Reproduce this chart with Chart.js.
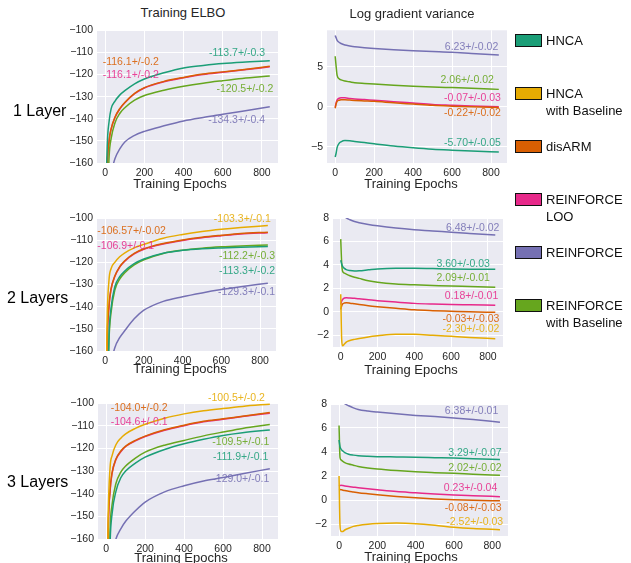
<!DOCTYPE html>
<html><head><meta charset="utf-8">
<script src="https://cdn.jsdelivr.net/npm/chart.js@4"></script>
<style>
body{margin:0;width:631px;height:563px;position:relative;overflow:hidden;background:#fff;font-family:"Liberation Sans",Arial,sans-serif;color:#262626}
.pane{position:absolute}
.pane canvas{display:block}
.t{position:absolute;white-space:nowrap;transform:translate(-50%,-50%);font-size:13px;line-height:1;z-index:5}
.row{position:absolute;white-space:nowrap;transform:translateY(-50%);font-size:16px;line-height:1;color:#000;z-index:5}
.lg{position:absolute;left:515px;width:25px;height:11px;border:1px solid #111;z-index:5}
.lt{position:absolute;left:546px;font-size:13px;line-height:17px;color:#111;z-index:5;white-space:nowrap}
</style></head><body>
<script>
// ---------- data ----------
const methods = ['HNCA','HNCA with Baseline','disARM','REINFORCE LOO','REINFORCE','REINFORCE with Baseline'];
const epochs = [0,5,10,20,30,50,75,100,150,200,300,400,500,600,700,840];
const xTicks = [0,200,400,600,800];
const elboTicks = [-160,-150,-140,-130,-120,-110,-100];
const var1Ticks = [-5,0,5];
const var23Ticks = [-2,0,2,4,6,8];

// 1 layer
const elbo1Hnca = [-240,-175,-153,-141,-135.5,-132,-129.2,-127.3,-124.2,-122,-119.2,-117,-115.9,-115,-114.4,-113.8];
const elbo1Disarm = [-257,-199,-164.5,-149.8,-144.6,-139.2,-135.3,-132.6,-128.5,-125.9,-123.1,-121.3,-119.8,-118.8,-117.8,-116.3];
const elbo1Loo = [-260,-200,-165,-150,-144.8,-139.4,-135.5,-132.8,-128.7,-126.1,-123.3,-121.5,-120,-119,-118,-116.5];
const elbo1Reinforce = [-205,-192,-182,-171,-165,-158,-153.5,-150.5,-147.5,-145.7,-143.2,-141,-139.4,-138,-136.6,-134.6];
const elbo1Baseline = [-280,-220,-185,-157,-149,-141.8,-137.5,-135,-131.6,-129.5,-127.1,-125.3,-123.9,-122.8,-121.8,-120.7];
const var1Hnca = [-6.3,-5.8,-5.1,-4.6,-4.4,-4.25,-4.28,-4.35,-4.5,-4.65,-4.93,-5.15,-5.33,-5.45,-5.55,-5.67];
const var1Disarm = [-0.2,0.35,0.65,0.8,0.85,0.86,0.82,0.78,0.72,0.66,0.48,0.32,0.16,0.06,-0.02,-0.1];
const var1Loo = [-0.1,0.5,0.85,1.05,1.12,1.1,1.03,0.97,0.88,0.8,0.62,0.45,0.28,0.18,0.08,0.0];
const var1Reinforce = [8.9,8.6,8.3,8.05,7.9,7.72,7.6,7.5,7.38,7.28,7.12,7.0,6.9,6.8,6.65,6.45];
const var1Baseline = [6.3,5.0,3.9,3.5,3.35,3.2,3.1,3.0,2.9,2.82,2.68,2.56,2.46,2.38,2.3,2.16];
// 2 layers
const elbo2Hnca = [-290,-235,-195,-153,-141,-131,-126.5,-124,-120.6,-118.5,-115.9,-114.6,-113.9,-113.5,-113.2,-112.9];
const elbo2HncaBase = [-240,-185,-148,-128,-123,-120,-117.5,-115.8,-113.5,-111.9,-109.1,-107.4,-106.1,-105.1,-104.3,-103.4];
const elbo2Disarm = [-252,-196,-158,-139.5,-132.2,-126.2,-122,-119.4,-116,-113.9,-111.5,-109.9,-108.7,-107.8,-107,-106.4];
const elbo2Loo = [-255,-198,-159,-140,-132.5,-126.4,-122.2,-119.6,-116.2,-114.1,-111.7,-110.1,-108.9,-108,-107.2,-106.6];
const elbo2Reinforce = [-210,-196,-185,-173,-166,-158.5,-154,-151,-145.5,-141.6,-137.6,-135.5,-133.8,-132.3,-131,-129.4];
const elbo2Baseline = [-280,-230,-190,-155,-143,-132.5,-127.6,-124.8,-121.2,-118.9,-116,-114.5,-113.6,-113,-112.6,-112.2];
const var2Hnca = [4.4,4.1,3.88,3.7,3.6,3.52,3.48,3.5,3.58,3.66,3.72,3.72,3.69,3.66,3.64,3.62];
const var2HncaBase = [1.5,-2.3,-2.9,-2.75,-2.58,-2.45,-2.35,-2.27,-2.14,-2.05,-1.92,-1.92,-2.0,-2.09,-2.18,-2.29];
const var2Disarm = [0.2,0.5,0.66,0.75,0.77,0.74,0.68,0.62,0.52,0.44,0.3,0.17,0.1,0.05,0.0,-0.04];
const var2Loo = [0.6,0.9,1.05,1.18,1.2,1.18,1.15,1.12,1.02,0.95,0.83,0.72,0.66,0.62,0.6,0.57];
const var2Reinforce = [8.8,8.6,8.4,8.15,8.0,7.85,7.7,7.6,7.45,7.33,7.14,7.0,6.9,6.78,6.68,6.55];
const var2Baseline = [6.2,4.2,3.45,3.3,3.22,3.08,2.95,2.85,2.65,2.52,2.37,2.3,2.25,2.2,2.16,2.1];
// 3 layers
const elbo3Hnca = [-290,-250,-210,-162,-149,-139,-133,-130,-126.5,-123.9,-120.5,-118,-116,-114.3,-113.1,-111.9];
const elbo3HncaBase = [-240,-190,-152,-128.5,-123.3,-118.4,-115.5,-113.6,-111.2,-109.4,-106.7,-104.8,-103.4,-102.4,-101.5,-100.5];
const elbo3Disarm = [-252,-201,-158,-138.5,-130.8,-124.7,-121.2,-119,-116.5,-114.6,-111.8,-109.8,-108.1,-107,-105.8,-104.2];
const elbo3Loo = [-255,-203,-159,-139,-131.2,-125,-121.5,-119.2,-116.7,-114.8,-112,-110,-108.3,-107.2,-106,-104.5];
const elbo3Reinforce = [-212,-198,-187,-175,-168,-160,-155.5,-152.2,-147.5,-143.7,-139.2,-136.5,-134.4,-132.9,-131.2,-129];
const elbo3Baseline = [-280,-240,-200,-156,-145,-135.5,-130.5,-127.8,-124.3,-121.7,-118.6,-116.5,-114.5,-112.8,-111.2,-109.5];
const var3Hnca = [5.0,4.45,4.25,4.08,3.95,3.82,3.74,3.69,3.64,3.61,3.59,3.57,3.53,3.49,3.44,3.37];
const var3HncaBase = [2.0,-2.1,-2.6,-2.62,-2.5,-2.35,-2.2,-2.12,-2.02,-1.96,-1.92,-1.97,-2.1,-2.27,-2.38,-2.47];
const var3Disarm = [0.9,0.88,0.86,0.82,0.79,0.73,0.67,0.61,0.52,0.44,0.3,0.18,0.09,0.02,-0.03,-0.07];
const var3Loo = [1.15,1.2,1.22,1.2,1.17,1.12,1.07,1.02,0.93,0.85,0.7,0.6,0.5,0.42,0.36,0.28];
const var3Reinforce = [8.9,8.65,8.45,8.2,8.02,7.85,7.68,7.55,7.42,7.33,7.18,7.05,6.95,6.83,6.7,6.48];
const var3Baseline = [6.2,3.55,3.35,3.22,3.12,3.0,2.9,2.8,2.67,2.58,2.45,2.35,2.28,2.22,2.15,2.06];

// end-of-run annotations (method order)
const elbo1Labels = ['-113.7+/-0.3', null, '-116.1+/-0.2', '-116.1+/-0.2', '-134.3+/-0.4', '-120.5+/-0.2'];
const var1Labels = ['-5.70+/-0.05', null, '-0.22+/-0.02', '-0.07+/-0.03', '6.23+/-0.02', '2.06+/-0.02'];
const elbo2Labels = ['-113.3+/-0.2', '-103.3+/-0.1', '-106.57+/-0.02', '-106.9+/-0.1', '-129.3+/-0.1', '-112.2+/-0.3'];
const var2Labels = ['3.60+/-0.03', '-2.30+/-0.02', '-0.03+/-0.03', '0.18+/-0.01', '6.48+/-0.02', '2.09+/-0.01'];
const elbo3Labels = ['-111.9+/-0.1', '-100.5+/-0.2', '-104.0+/-0.2', '-104.6+/-0.1', '-129.0+/-0.1', '-109.5+/-0.1'];
const var3Labels = ['3.29+/-0.07', '-2.52+/-0.03', '-0.08+/-0.03', '0.23+/-0.04', '6.38+/-0.01', '2.02+/-0.02'];

// ---------- styles / layout ----------
const palette = ['#1b9e77','#e6ab02','#d95f02','#e7298a','#7570b3','#66a61e'];
const FONT = '"Liberation Sans", Arial, sans-serif';
const X_RANGE = [-42, 882];

const panels = [
  {box:{x:30,y:20,w:260,h:175}, plot:{l:97,t:28,r:278,b:163}, y:[-160,-100], yTicks:elboTicks,
   series:[elbo1Hnca,null,elbo1Disarm,elbo1Loo,elbo1Reinforce,elbo1Baseline], labels:elbo1Labels,
   lpos:[[816,-110.5,'right'],null,[-13,-114.2,'left'],[-13,-120.1,'left'],[816,-140.6,'right'],[858,-126.4,'right']]},
  {box:{x:292,y:20,w:223,h:175}, plot:{l:327,t:28,r:507,b:163}, y:[-7.05,9.55], yTicks:var1Ticks,
   series:[var1Hnca,null,var1Disarm,var1Loo,var1Reinforce,var1Baseline], labels:var1Labels,
   lpos:[[851,-4.57,'right'],null,[851,-0.82,'right'],[851,1.02,'right'],[837,7.47,'right'],[815,3.31,'right']]},
  {box:{x:30,y:200,w:260,h:180}, plot:{l:97,t:218,r:276,b:351}, y:[-160,-100], yTicks:elboTicks,
   series:[elbo2Hnca,elbo2HncaBase,elbo2Disarm,elbo2Loo,elbo2Reinforce,elbo2Baseline], labels:elbo2Labels,
   lpos:[[877,-124.1,'right'],[855,-100.6,'right'],[-40.5,-106.0,'left'],[-40.5,-112.6,'left'],[877,-133.4,'right'],[877,-117.1,'right']]},
  {box:{x:292,y:200,w:223,h:180}, plot:{l:333,t:218,r:503,b:347}, y:[-3,8], yTicks:var23Ticks,
   series:[var2Hnca,var2HncaBase,var2Disarm,var2Loo,var2Reinforce,var2Baseline], labels:var2Labels,
   lpos:[[811,4.11,'right'],[862,-1.51,'right'],[862,-0.6,'right'],[856,1.34,'right'],[862,7.14,'right'],[811,2.86,'right']]},
  {box:{x:30,y:385,w:260,h:178}, plot:{l:98,t:403,r:278,b:539}, y:[-160,-100], yTicks:elboTicks,
   series:[elbo3Hnca,elbo3HncaBase,elbo3Disarm,elbo3Loo,elbo3Reinforce,elbo3Baseline], labels:elbo3Labels,
   lpos:[[832,-123.9,'right'],[815,-97.8,'right'],[23,-102.2,'left'],[23,-108.4,'left'],[837,-133.6,'right'],[837,-117.4,'right']]},
  {box:{x:292,y:385,w:223,h:178}, plot:{l:331,t:404,r:508,b:536}, y:[-3,8], yTicks:var23Ticks,
   series:[var3Hnca,var3HncaBase,var3Disarm,var3Loo,var3Reinforce,var3Baseline], labels:var3Labels,
   lpos:[[849,3.87,'right'],[857,-1.86,'right'],[849,-0.71,'right'],[826,1.03,'right'],[831,7.37,'right'],[849,2.68,'right']]}
];

const fmt = v => (v < 0 ? '\u2212' + Math.abs(v) : String(v));

const bgPlugin = {
  id:'bg',
  beforeDraw(chart){
    const {ctx, chartArea:a} = chart;
    ctx.save(); ctx.fillStyle = '#eaeaf2';
    ctx.fillRect(a.left, a.top, a.right - a.left, a.bottom - a.top);
    ctx.restore();
  }
};
const labelPlugin = {
  id:'endLabels',
  afterDatasetsDraw(chart, args, opts){
    const {ctx} = chart; const xs = chart.scales.x, ys = chart.scales.y;
    ctx.save();
    ctx.font = '10.5px ' + FONT;
    ctx.textBaseline = 'middle';
    ctx.globalAlpha = 0.88;
    opts.labels.forEach((txt, i) => {
      if (!txt) return;
      const p = opts.pos[i];
      ctx.fillStyle = palette[i];
      ctx.textAlign = p[2];
      ctx.fillText(txt, xs.getPixelForValue(p[0]), ys.getPixelForValue(p[1]));
    });
    ctx.restore();
  }
};

function el(cls, css, text){
  const d = document.createElement('div'); d.className = cls;
  Object.assign(d.style, css); if (text != null) d.textContent = text;
  document.body.appendChild(d); return d;
}

panels.forEach(P => {
  const wrap = el('pane', {left:P.box.x+'px', top:P.box.y+'px', width:P.box.w+'px', height:P.box.h+'px'});
  const cv = document.createElement('canvas'); cv.width = P.box.w; cv.height = P.box.h;
  wrap.appendChild(cv);
  const order = [0,1,4,5,2,3];
  const datasets = [];
  order.forEach(i => {
    const s = P.series[i]; if (!s) return;
    datasets.push({
      label: methods[i],
      data: epochs.map((e, k) => ({x:e, y:s[k]})),
      borderColor: palette[i], borderWidth: 1.5, pointRadius: 0,
      cubicInterpolationMode: 'monotone', fill: false
    });
  });
  const tickFont = {family: FONT, size: 10.5};
  new Chart(cv, {
    type: 'line',
    data: {datasets},
    options: {
      responsive: false, animation: false, events: [],
      layout: {padding: {top: P.plot.t - P.box.y, right: P.box.x + P.box.w - P.plot.r, left: 0, bottom: 0}},
      plugins: {legend:{display:false}, tooltip:{enabled:false},
        endLabels: {labels: P.labels, pos: P.lpos}},
      scales: {
        x: {type:'linear', min:X_RANGE[0], max:X_RANGE[1],
          afterBuildTicks: s => { s.ticks = xTicks.map(v => ({value:v})); },
          afterFit: s => { s.height = P.box.y + P.box.h - P.plot.b; },
          grid: {color:'#ffffff', lineWidth:1, drawTicks:false}, border:{display:false},
          ticks: {padding:4, color:'#262626', font:tickFont, maxRotation:0, autoSkip:false, callback: v => fmt(v)}},
        y: {type:'linear', min:P.y[0], max:P.y[1],
          afterBuildTicks: s => { s.ticks = P.yTicks.map(v => ({value:v})); },
          afterFit: s => { s.width = P.plot.l - P.box.x; },
          grid: {color:'#ffffff', lineWidth:1, drawTicks:false}, border:{display:false},
          ticks: {padding:4, color:'#262626', font:tickFont, autoSkip:false, callback: v => fmt(v)}}
      }
    },
    plugins: [bgPlugin, labelPlugin]
  });
});

// titles and axis titles
el('t', {left:'183px', top:'12px'}, 'Training ELBO');
el('t', {left:'412px', top:'13px'}, 'Log gradient variance');
[[180,183],[411,183],[180,368],[411,369],[181,557],[411,556]].forEach(p =>
  el('t', {left:p[0]+'px', top:p[1]+'px'}, 'Training Epochs'));
el('row', {left:'13px', top:'111px'}, '1 Layer');
el('row', {left:'7px', top:'298px'}, '2 Layers');
el('row', {left:'7px', top:'482px'}, '3 Layers');

// legend
const legendLines = [['HNCA'],['HNCA','with Baseline'],['disARM'],['REINFORCE','LOO'],['REINFORCE'],['REINFORCE','with Baseline']];
methods.forEach((m, i) => {
  const cy = 40 + i * 53;
  el('lg', {top:(cy - 6.5)+'px', background:palette[i]});
  el('lt', {top:(cy - 8.5)+'px'}).innerHTML = legendLines[i].join('<br>');
});
</script>
</body></html>
